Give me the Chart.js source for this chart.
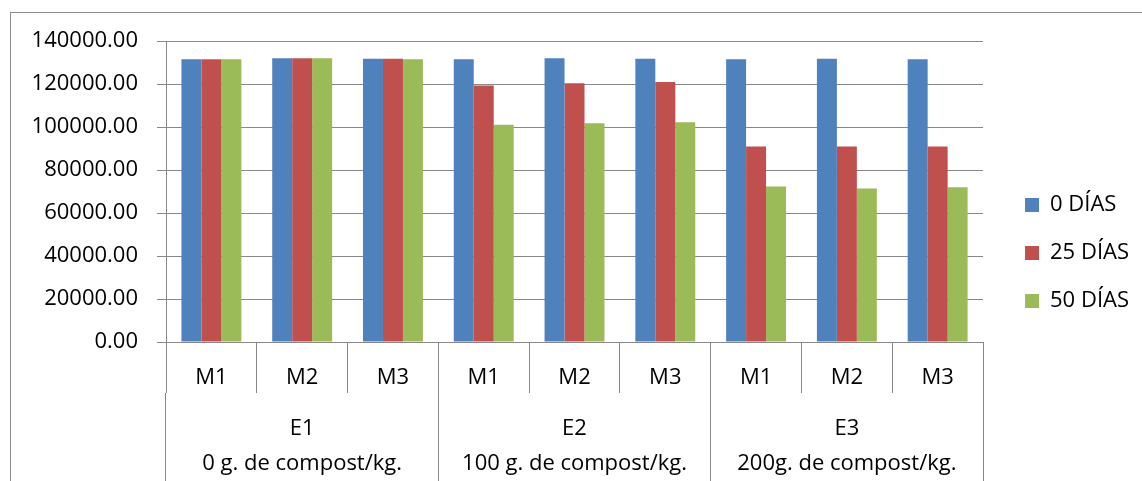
<!DOCTYPE html>
<html>
<head>
<meta charset="utf-8">
<script src="https://cdn.jsdelivr.net/npm/chart.js@4"></script>
<style>
  html, body { margin: 0; padding: 0; background: #fff; }
  #wrap { position: relative; width: 1142px; height: 481px; }
  #frame { position: absolute; left: 10px; top: 12px; right: 0; bottom: 0;
           border-left: 1px solid #8a8a8a; border-top: 1px solid #8a8a8a; pointer-events: none; }
  canvas { display: block; }
</style>
</head>
<body>
<div id="wrap">
  <canvas id="compostChart" width="1142" height="481"></canvas>
  <div id="frame"></div>
</div>
<script>
// muestras y ensayos
const muestras = ["M1", "M2", "M3", "M1", "M2", "M3", "M1", "M2", "M3"];
const ensayos = [
  ["E1", "0 g. de compost/kg."],
  ["E2", "100 g. de compost/kg."],
  ["E3", "200g. de compost/kg."]
];

const dias0 = [131500, 132000, 131800, 131500, 132000, 131800, 131500, 131800, 131500];
const dias25 = [131500, 132000, 131800, 119300, 120300, 120900, 90900, 90900, 90900];
const dias50 = [131500, 132000, 131500, 101000, 101700, 102200, 72300, 71400, 72000];

const yTicks = [0, 20000, 40000, 60000, 80000, 100000, 120000, 140000];

const gridColor = "#888888";
const fontFam = "'Open Sans', sans-serif";

Chart.defaults.color = "#000";
Chart.defaults.borderColor = gridColor;

new Chart("compostChart", {
  type: "bar",
  data: {
    labels: muestras,
    datasets: [
      { label: "0 DÍAS", data: dias0, backgroundColor: "#4F81BD" },
      { label: "25 DÍAS", data: dias25, backgroundColor: "#C0504D" },
      { label: "50 DÍAS", data: dias50, backgroundColor: "#9BBB59" }
    ]
  },
  options: {
    responsive: false,
    animation: false,
    layout: { padding: { top: 25, left: 10, right: 3, bottom: 0 } },
    datasets: { bar: { categoryPercentage: 0.66, barPercentage: 1 } },
    plugins: {
      tooltip: { enabled: false },
      // empty title only reserves the gap above the plot
      title: { display: true, text: "", padding: 0, font: { size: 16, lineHeight: 1 } },
      legend: {
        position: "right",
        labels: { boxWidth: 14, boxHeight: 14, padding: 26, font: { family: fontFam, size: 22 } }
      }
    },
    scales: {
      x: {
        weight: 0,
        grid: { drawOnChartArea: false, offset: true, color: gridColor, tickLength: 51 },
        border: { color: gridColor },
        ticks: { padding: -28, maxRotation: 0, autoSkip: false, font: { family: fontFam, size: 22 } },
        afterFit: function (s) { s.height = 51; }
      },
      x2: {
        type: "category",
        position: "bottom",
        weight: 1,
        labels: ensayos,
        offset: true,
        grid: { drawOnChartArea: false, offset: true, color: gridColor, tickLength: 88 },
        border: { display: false },
        ticks: { padding: -70, maxRotation: 0, autoSkip: false,
                 font: { family: fontFam, size: 22, lineHeight: 35 / 22 } },
        afterFit: function (s) { s.height = 88; }
      },
      y: {
        min: 0,
        max: 140000,
        afterBuildTicks: function (s) { s.ticks = yTicks.map(v => ({ value: v })); },
        grid: { color: gridColor, tickLength: 9 },
        border: { color: gridColor },
        ticks: { padding: 19, font: { family: fontFam, size: 22 }, callback: v => v.toFixed(2) },
        afterFit: function (s) { s.width = 156; }
      },
      // spacer between plot and legend
      yPad: {
        position: "right",
        grid: { display: false },
        border: { display: false },
        ticks: { display: false },
        afterFit: function (s) { s.width = 16; }
      }
    }
  }
});
</script>
</body>
</html>
